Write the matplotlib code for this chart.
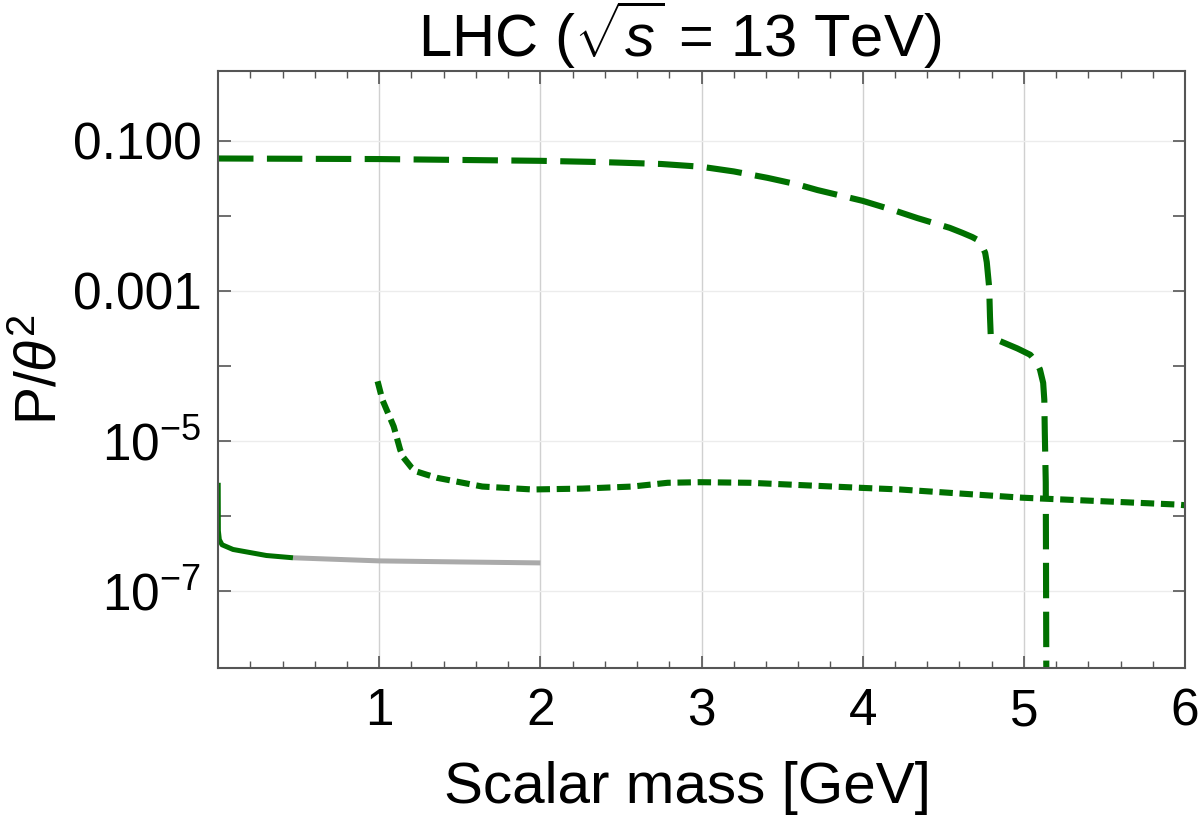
import numpy as np
import matplotlib
matplotlib.use('Agg')
import matplotlib.pyplot as plt
from matplotlib.ticker import FixedLocator, FixedFormatter, NullLocator

plt.rcParams['font.family'] = ['Liberation Sans', 'DejaVu Sans']
plt.rcParams['mathtext.fontset'] = 'custom'
plt.rcParams['mathtext.rm'] = 'Liberation Sans'
plt.rcParams['mathtext.it'] = 'Liberation Sans:italic'
plt.rcParams['mathtext.bf'] = 'Liberation Sans:bold'

# Data -------------------------------------------------------------------------
# long dashed curve
dash_x = [0.0, 1.0, 2.0, 2.37, 2.5, 2.75, 3.0, 3.2, 3.41, 3.6, 3.72, 4.0,
          4.2, 4.34, 4.54, 4.62, 4.68, 4.71, 4.74, 4.76, 4.77, 4.785, 4.79,
          4.795, 4.96, 5.04, 5.08, 5.10, 5.12, 5.127, 5.13, 5.136, 5.137,
          5.14]
dash_y = [0.058, 0.057, 0.054, 0.052, 0.051, 0.049, 0.045, 0.039, 0.032,
          0.026, 0.022, 0.0158, 0.0117, 0.0093, 0.0069, 0.0059, 0.0052,
          0.0048, 0.0040, 0.0032, 0.0024, 0.0011, 4.5e-4, 2.4e-4, 1.7e-4,
          1.4e-4, 1.1e-4, 8.9e-5, 5.9e-5, 3.5e-5, 1.3e-5, 2.8e-6, 5.9e-7,
          3e-9]
# short dashed curve
dot_x = [0.99, 1.02, 1.09, 1.13, 1.15, 1.20, 1.23, 1.29, 1.36, 1.64, 1.95,
         2.26, 2.57, 2.79, 2.99, 3.30, 4.0, 4.23, 4.99, 5.95, 6.0]
dot_y = [6.2e-5, 3.5e-5, 1.55e-5, 7.6e-6, 6.0e-6, 4.4e-6, 3.9e-6, 3.55e-6,
         3.2e-6, 2.45e-6, 2.24e-6, 2.3e-6, 2.45e-6, 2.75e-6, 2.8e-6,
         2.75e-6, 2.35e-6, 2.24e-6, 1.74e-6, 1.41e-6, 1.38e-6]
# solid curve, green part then gray part
solid_x = [0.001, 0.002, 0.008, 0.025, 0.093, 0.30, 0.465]
solid_y = [2.75e-6, 6.3e-7, 4.8e-7, 4.1e-7, 3.55e-7, 2.95e-7, 2.75e-7]
gray_x = [0.465, 1.0, 1.5, 2.0]
gray_y = [2.75e-7, 2.5e-7, 2.42e-7, 2.35e-7]

x_ticks = [1, 2, 3, 4, 5, 6]
y_ticks = [1e-1, 1e-3, 1e-5, 1e-7]
y_labels = ['0.100', '0.001', r'$10^{-5}$', r'$10^{-7}$']

GREEN = '#007000'
GRAY = '#aaaaaa'

###############################################################################
# Plot
###############################################################################
fig = plt.figure(figsize=(12, 8.19), dpi=100)
ax = fig.add_axes([0.1817, 0.1844, 0.8058, 0.7289])

ax.plot(dash_x, dash_y, color=GREEN, lw=4.4, dashes=(5.8, 2.2),
        dash_capstyle='butt', dash_joinstyle='round')
ax.plot(dot_x, dot_y, color=GREEN, lw=4.4, dashes=(2.2, 1.1),
        dash_capstyle='butt', dash_joinstyle='round')
ax.plot(gray_x, gray_y, color=GRAY, lw=3.6, solid_capstyle='butt',
        solid_joinstyle='round')
ax.plot(solid_x, solid_y, color=GREEN, lw=3.6, solid_capstyle='butt',
        solid_joinstyle='round')

ax.set_yscale('log')
ax.set_xlim(0, 6)
ax.set_ylim(10**-8.03, 10**-0.07)

# grid -----------------------------------------------------------------------
for v in x_ticks[:-1]:
    ax.axvline(v, color='#d0d0d0', lw=1.0, zorder=0)
for v in y_ticks:
    ax.axhline(v, color='#ececec', lw=1.0, zorder=0)

# ticks ----------------------------------------------------------------------
ax.xaxis.set_major_locator(FixedLocator(x_ticks))
ax.xaxis.set_minor_locator(FixedLocator(
    [v for v in np.arange(0.2, 6.0, 0.2) if abs(v - round(v)) > 1e-6]))
ax.yaxis.set_major_locator(FixedLocator([10.0**k for k in range(-7, 0)]))
ax.yaxis.set_major_formatter(FixedFormatter(
    [y_labels[3], '', y_labels[2], '', y_labels[1], '', y_labels[0]]))
ax.yaxis.set_minor_locator(NullLocator())
ax.tick_params(which='both', direction='in', top=True, right=True,
               color='#555555', labelsize=37, labelcolor='black')
ax.tick_params(which='major', length=9, width=1.2)
ax.tick_params(which='minor', length=5, width=1.0)
ax.tick_params(axis='x', pad=14)
ax.tick_params(axis='y', pad=12)

for s in ax.spines.values():
    s.set_color('#555555')
    s.set_linewidth(1.5)

ax.set_xlabel('Scalar mass [GeV]', fontsize=42)
ax.xaxis.set_label_coords(0.485, -0.155)
ax.set_ylabel(r'P/$\theta^2$', fontsize=41)
ax.yaxis.set_label_coords(-0.155, 0.5)
ax.set_title(r'LHC ($\sqrt{s}$ = 13 TeV)', fontsize=43, pad=10, x=0.477)

fig.savefig('out.png', dpi=100, facecolor='w')
plt.close('all')
